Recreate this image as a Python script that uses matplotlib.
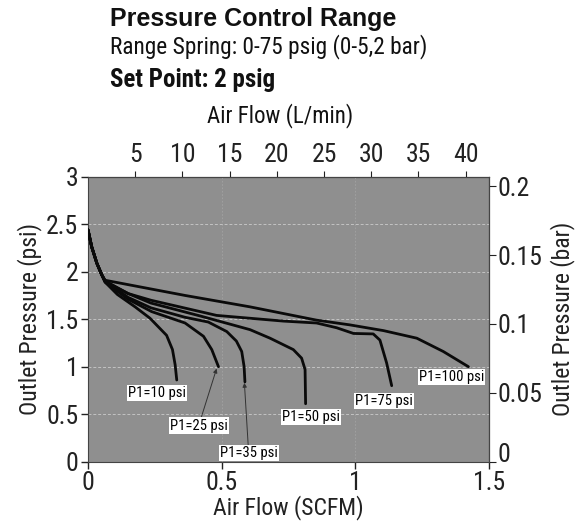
import matplotlib
matplotlib.use("Agg")
import matplotlib.pyplot as plt
from matplotlib.ticker import FormatStrFormatter

plt.rcParams['font.family'] = ['Roboto Condensed', 'Archivo Narrow', 'PT Sans Narrow', 'DejaVu Sans']

# Datos: flujo (SCFM) y presion de salida (psi)
flujo_100 = [0, 0.014, 0.033, 0.051, 0.064, 0.176, 0.363, 0.606, 0.855, 0.980, 1.105, 1.230, 1.329, 1.423]
pres_100 = [2.44, 2.26, 2.09, 1.97, 1.91, 1.85, 1.75, 1.63, 1.49, 1.44, 1.38, 1.30, 1.16, 1.00]

flujo_75 = [0, 0.014, 0.033, 0.051, 0.064, 0.15, 0.235, 0.481, 0.731, 0.855, 0.93, 0.993, 1.067, 1.092, 1.117, 1.136]
pres_75 = [2.44, 2.26, 2.09, 1.97, 1.90, 1.77, 1.70, 1.54, 1.48, 1.46, 1.41, 1.35, 1.345, 1.28, 1.04, 0.80]

flujo_50 = [0, 0.014, 0.033, 0.051, 0.064, 0.15, 0.235, 0.425, 0.606, 0.681, 0.768, 0.799, 0.812, 0.814]
pres_50 = [2.44, 2.26, 2.09, 1.97, 1.90, 1.77, 1.67, 1.53, 1.39, 1.30, 1.18, 1.09, 0.97, 0.61]

flujo_35 = [0, 0.014, 0.033, 0.051, 0.064, 0.15, 0.235, 0.363, 0.45, 0.519, 0.555, 0.575, 0.584, 0.587]
pres_35 = [2.44, 2.26, 2.09, 1.97, 1.90, 1.73, 1.62, 1.52, 1.47, 1.37, 1.27, 1.16, 1.00, 0.84]

flujo_25 = [0, 0.014, 0.033, 0.051, 0.064, 0.15, 0.238, 0.363, 0.432, 0.463, 0.488]
pres_25 = [2.44, 2.26, 2.09, 1.97, 1.89, 1.71, 1.58, 1.46, 1.32, 1.18, 1.00]

flujo_10 = [0, 0.014, 0.033, 0.051, 0.064, 0.11, 0.176, 0.232, 0.263, 0.294, 0.316, 0.326, 0.332]
pres_10 = [2.44, 2.26, 2.09, 1.97, 1.89, 1.76, 1.63, 1.51, 1.42, 1.33, 1.18, 1.02, 0.86]

etiquetas = ["P1=10 psi", "P1=25 psi", "P1=35 psi", "P1=50 psi", "P1=75 psi", "P1=100 psi"]
pos_etiquetas = [(0.257, 0.72), (0.414, 0.38), (0.601, 0.09), (0.833, 0.47), (1.107, 0.64), (1.36, 0.89)]
# flechas solo para 25 y 35 psi
flechas = {1: (0.481, 0.98), 2: (0.585, 0.83)}

SCFM_A_LMIN = 28.3168
PSI_A_BAR = 0.0689476

fig = plt.figure(figsize=(5.76, 5.27), dpi=100)
ax = fig.add_axes([88 / 576, 1 - 461.7 / 527, 401 / 576, 285 / 527])
ax.set_facecolor('#8f8f8f')

for f, p in [(flujo_100, pres_100), (flujo_75, pres_75), (flujo_50, pres_50),
             (flujo_35, pres_35), (flujo_25, pres_25), (flujo_10, pres_10)]:
    ax.plot(f, p, color='#0a0a0a', lw=2.0, solid_capstyle='round', solid_joinstyle='round', zorder=3)

caja = dict(boxstyle='square,pad=0.08', fc='white', ec='none')
for i, (txt, (x, y)) in enumerate(zip(etiquetas, pos_etiquetas)):
    if i in flechas:
        ax.annotate(txt, xy=flechas[i], xytext=(x, y), ha='center', va='center',
                    fontsize=10.5, bbox=caja,
                    arrowprops=dict(arrowstyle='-|>', color='#333333', lw=0.7,
                                    mutation_scale=6, shrinkA=0, shrinkB=0),
                    zorder=4)
    else:
        ax.text(x, y, txt, ha='center', va='center', fontsize=10.5, bbox=caja, zorder=4)

ax.set_xlim(0, 1.5)
ax.set_ylim(0, 3)
ax.set_xticks([0, 0.5, 1, 1.5])
ax.set_yticks([0, 0.5, 1, 1.5, 2, 2.5, 3])
ax.xaxis.set_major_formatter(FormatStrFormatter('%g'))
ax.yaxis.set_major_formatter(FormatStrFormatter('%g'))
ax.grid(True, axis='y', color='#d0d0d0', ls=(0, (3, 2)), lw=0.7, alpha=0.8)
ax.grid(True, axis='x', color='#a8a8a8', ls=(0, (2, 2)), lw=0.6, alpha=0.8)
ax.tick_params(labelsize=18.5, length=5, width=1, pad=2, colors='#222222')
for s in ax.spines.values():
    s.set_color('#444444')

ax.set_xlabel('Air Flow (SCFM)', fontsize=17, labelpad=0, color='#222222')
ax.set_ylabel('Outlet Pressure (psi)', fontsize=17, labelpad=3, color='#222222')

arriba = ax.secondary_xaxis('top', functions=(lambda x: x * SCFM_A_LMIN, lambda x: x / SCFM_A_LMIN))
arriba.set_xticks([5, 10, 15, 20, 25, 30, 35, 40])
arriba.tick_params(labelsize=18.5, length=4, pad=3, colors='#222222')

derecha = ax.secondary_yaxis('right', functions=(lambda p: p * PSI_A_BAR, lambda b: b / PSI_A_BAR))
derecha.set_yticks([0, 0.05, 0.1, 0.15, 0.2])
derecha.yaxis.set_major_formatter(FormatStrFormatter('%g'))
derecha.tick_params(labelsize=18.5, length=5, pad=1, colors='#222222')
derecha.set_ylabel('Outlet Pressure (bar)', fontsize=17, labelpad=6, color='#222222')
# el "0" de la derecha queda apoyado sobre la linea, como en el original
derecha.get_yticklabels()[0].set_verticalalignment('baseline')

fig.text(110 / 576, 1 - 26 / 527, 'Pressure Control Range', fontsize=18, fontweight='bold',
         family=['Liberation Sans', 'DejaVu Sans'], va='baseline', color='#111111')
fig.text(110 / 576, 1 - 53 / 527, 'Range Spring: 0-75 psig (0-5,2 bar)', fontsize=16.8,
         va='baseline', color='#111111')
fig.text(110 / 576, 1 - 87 / 527, 'Set Point: 2 psig', fontsize=18, fontweight='bold',
         va='baseline', color='#111111')
fig.text(280 / 576, 1 - 122 / 527, 'Air Flow (L/min)', fontsize=16.5, ha='center',
         va='baseline', color='#111111')

fig.savefig('out.png', dpi=100)
